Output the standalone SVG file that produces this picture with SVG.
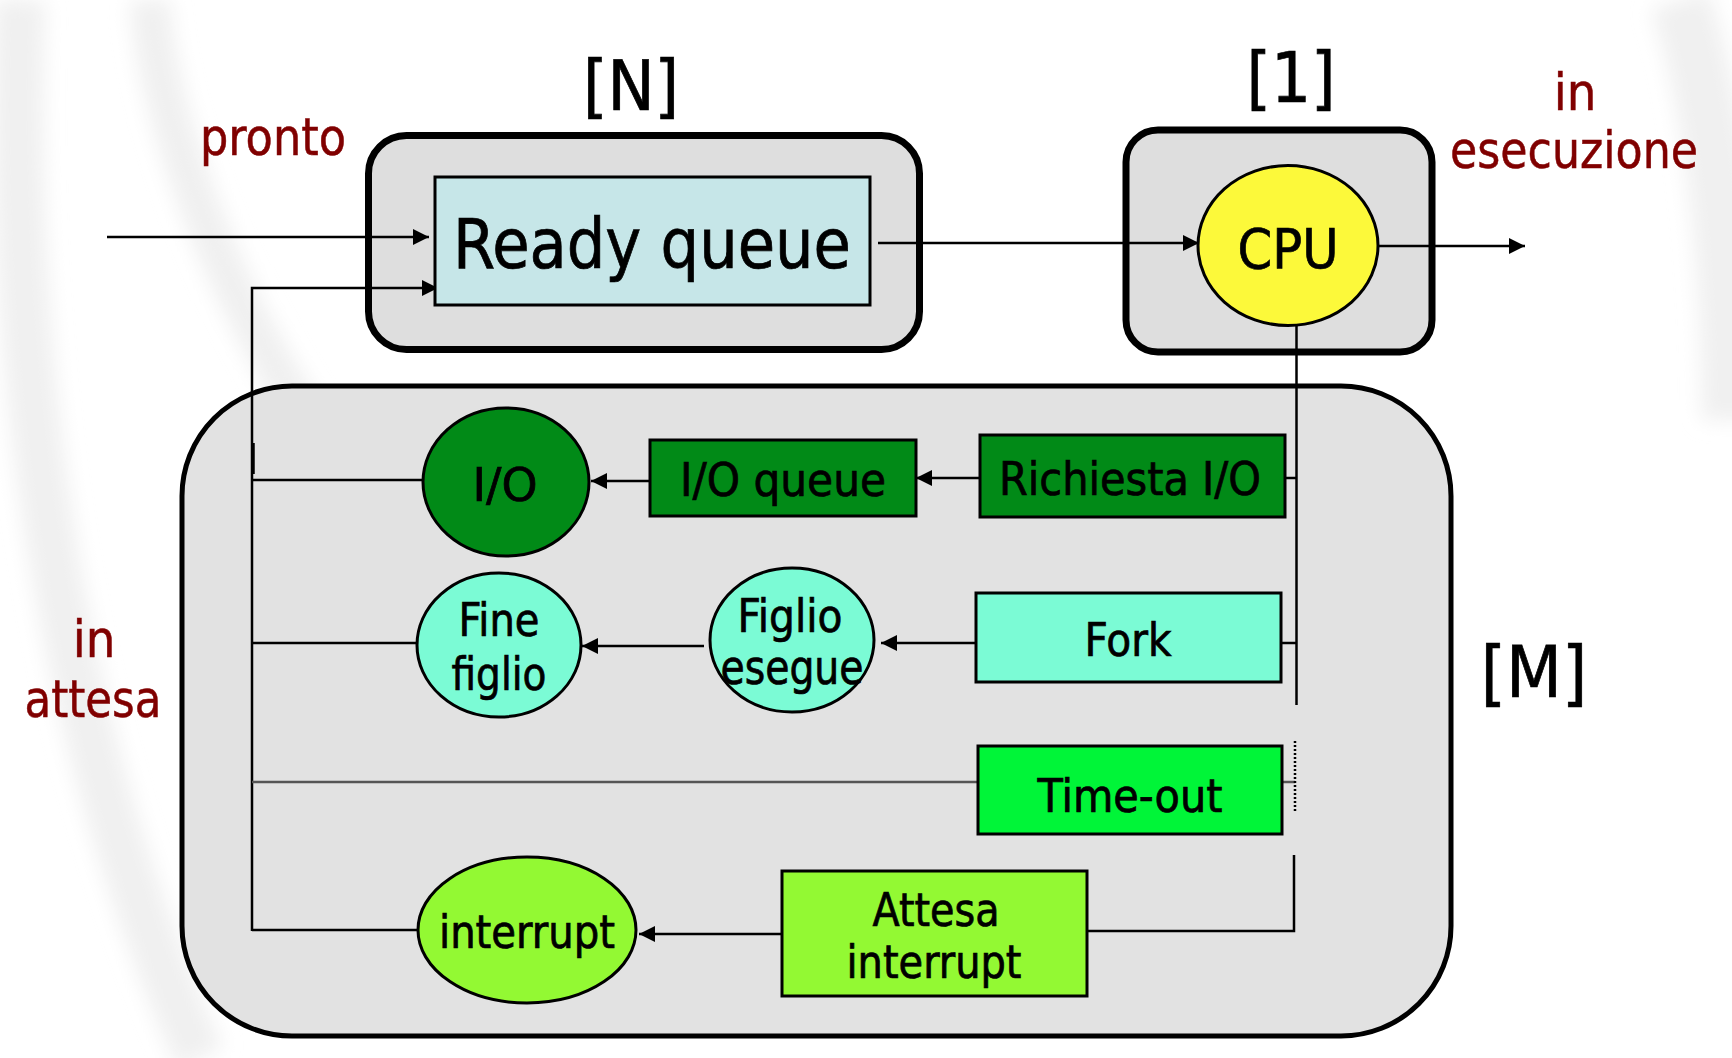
<svg xmlns="http://www.w3.org/2000/svg" width="1732" height="1058" viewBox="0 0 1732 1058">
<style>
.t{font-family:"DejaVu Sans Condensed","DejaVu Sans",Tahoma,sans-serif;fill:#000;stroke:#000;stroke-width:0.7;text-anchor:middle}
.m{font-family:"DejaVu Sans Condensed","DejaVu Sans",Tahoma,sans-serif;fill:#800000;stroke:#800000;stroke-width:0.5;text-anchor:middle;font-size:52px}
.box{fill:#dedede;stroke:#000;stroke-width:7}
.n{stroke:#000;stroke-width:3}
.c{fill:none;stroke:#000;stroke-width:2.5}
.g{fill:none;stroke:#555;stroke-width:2.5}
</style>
<defs>
<marker id="ah" markerUnits="userSpaceOnUse" markerWidth="16" markerHeight="16" refX="16" refY="8" orient="auto">
<path d="M0,0 L16,8 L0,16 z" fill="#000"/>
</marker>
<filter id="soft" x="-10%" y="-10%" width="120%" height="120%">
<feGaussianBlur stdDeviation="10"/>
</filter>
</defs>
<rect width="1732" height="1058" fill="#fff"/>
<g id="background" fill="none" stroke="#f0f0f0" filter="url(#soft)">
<path d="M20,0 C10,300 40,700 200,1058" stroke-width="50"/>
<path d="M150,0 C160,150 260,400 420,560" stroke-width="40"/>
<path d="M1680,0 C1720,120 1732,300 1732,420" stroke-width="60"/>
</g>
<g id="frames">
<rect id="frame-N" class="box" x="368.5" y="135.5" width="551" height="214" rx="38"/>
<rect id="frame-1" class="box" x="1126" y="130" width="306" height="222" rx="32" stroke-width="6"/>
<rect id="frame-M" x="182" y="386" width="1269" height="650" rx="110" fill="#e2e2e2" stroke="#000" stroke-width="5"/>
</g>
<g id="labels">
<text class="t" x="631" y="110" font-size="70">[N]</text>
<text class="t" x="1291" y="102" font-size="70">[1]</text>
<text class="t" x="1534" y="697" font-size="72">[M]</text>
<text class="m" x="273" y="155" textLength="146" lengthAdjust="spacingAndGlyphs">pronto</text>
<text class="m" x="1575" y="110">in</text>
<text class="m" x="1574" y="168" textLength="248" lengthAdjust="spacingAndGlyphs">esecuzione</text>
<text class="m" x="94" y="657">in</text>
<text class="m" x="93" y="717" textLength="137" lengthAdjust="spacingAndGlyphs">attesa</text>
</g>
<g id="connectors">
<line class="c" x1="107" y1="237" x2="429" y2="237" marker-end="url(#ah)"/>
<path class="c" d="M252,931 V288 H438" marker-end="url(#ah)"/>
<line x1="253" y1="443" x2="253" y2="474" stroke="#000" stroke-width="3.5"/>
<line class="c" x1="878" y1="243" x2="1199" y2="243" marker-end="url(#ah)"/>
<line class="c" x1="1379" y1="246" x2="1525" y2="246" marker-end="url(#ah)"/>
<line class="c" x1="1296.5" y1="326" x2="1296.5" y2="705"/>
<line class="c" x1="1285" y1="478" x2="1297" y2="478"/>
<line class="c" x1="980" y1="478" x2="916" y2="478" marker-end="url(#ah)"/>
<line class="c" x1="650" y1="481" x2="591" y2="481" marker-end="url(#ah)"/>
<line class="c" x1="423" y1="480" x2="252" y2="480"/>
<line class="c" x1="1281" y1="643" x2="1297" y2="643"/>
<line class="c" x1="976" y1="643" x2="881" y2="643" marker-end="url(#ah)"/>
<line class="c" x1="704" y1="646" x2="582" y2="646" marker-end="url(#ah)"/>
<line class="c" x1="417" y1="643" x2="252" y2="643"/>
<line class="g" x1="978" y1="782" x2="252" y2="782"/>
<line class="g" x1="1282" y1="782" x2="1295" y2="782"/>
<line x1="1295" y1="741" x2="1295" y2="812" stroke="#000" stroke-width="2.5" stroke-dasharray="2,2"/>
<path class="c" d="M1087,931 H1294 V855"/>
<line class="c" x1="782" y1="934" x2="639" y2="934" marker-end="url(#ah)"/>
<line class="c" x1="418" y1="930" x2="252" y2="930"/>
</g>
<g id="ready-queue">
<rect class="n" x="435" y="177" width="435" height="128" fill="#c6e6e8"/>
<text class="t" x="652" y="268" font-size="69" textLength="398" lengthAdjust="spacingAndGlyphs">Ready queue</text>
</g>
<g id="cpu">
<ellipse class="n" cx="1288" cy="245.5" rx="90" ry="80" fill="#fcf93a"/>
<text class="t" x="1288" y="268" font-size="56" textLength="101" lengthAdjust="spacingAndGlyphs">CPU</text>
</g>
<g id="io">
<ellipse class="n" cx="506" cy="482" rx="83" ry="74" fill="#018a17"/>
<text class="t" x="505" y="501" font-size="46" textLength="65" lengthAdjust="spacingAndGlyphs">I/O</text>
</g>
<g id="io-queue">
<rect class="n" x="650" y="440" width="266" height="76" fill="#018a17"/>
<text class="t" x="783" y="496" font-size="46" textLength="206" lengthAdjust="spacingAndGlyphs">I/O queue</text>
</g>
<g id="richiesta-io">
<rect class="n" x="980" y="435" width="305" height="82" fill="#018a17"/>
<text class="t" x="1130" y="495" font-size="46" textLength="262" lengthAdjust="spacingAndGlyphs">Richiesta I/O</text>
</g>
<g id="fine-figlio">
<ellipse class="n" cx="499" cy="645" rx="82" ry="72" fill="#7bfbd5"/>
<text class="t" x="499" y="636" font-size="46" textLength="81" lengthAdjust="spacingAndGlyphs">Fine</text>
<text class="t" x="499" y="690" font-size="46" textLength="95" lengthAdjust="spacingAndGlyphs">figlio</text>
</g>
<g id="figlio-esegue">
<ellipse class="n" cx="792" cy="640" rx="82" ry="72" fill="#7bfbd5"/>
<text class="t" x="790" y="632" font-size="46" textLength="105" lengthAdjust="spacingAndGlyphs">Figlio</text>
<text class="t" x="792" y="684" font-size="48" textLength="143" lengthAdjust="spacingAndGlyphs">esegue</text>
</g>
<g id="fork">
<rect class="n" x="976" y="593" width="305" height="89" fill="#7bfbd5"/>
<text class="t" x="1128" y="656" font-size="46" textLength="87" lengthAdjust="spacingAndGlyphs">Fork</text>
</g>
<g id="time-out">
<rect class="n" x="978" y="746" width="304" height="88" fill="#00f538"/>
<text class="t" x="1130" y="812" font-size="46" textLength="185" lengthAdjust="spacingAndGlyphs">Time-out</text>
</g>
<g id="interrupt">
<ellipse class="n" cx="527" cy="930" rx="109" ry="73" fill="#93f933"/>
<text class="t" x="527" y="948" font-size="46" textLength="176" lengthAdjust="spacingAndGlyphs">interrupt</text>
</g>
<g id="attesa-interrupt">
<rect class="n" x="782" y="871" width="305" height="125" fill="#93f933"/>
<text class="t" x="936" y="926" font-size="46" textLength="127" lengthAdjust="spacingAndGlyphs">Attesa</text>
<text class="t" x="934" y="978" font-size="46" textLength="175" lengthAdjust="spacingAndGlyphs">interrupt</text>
</g>
</svg>
